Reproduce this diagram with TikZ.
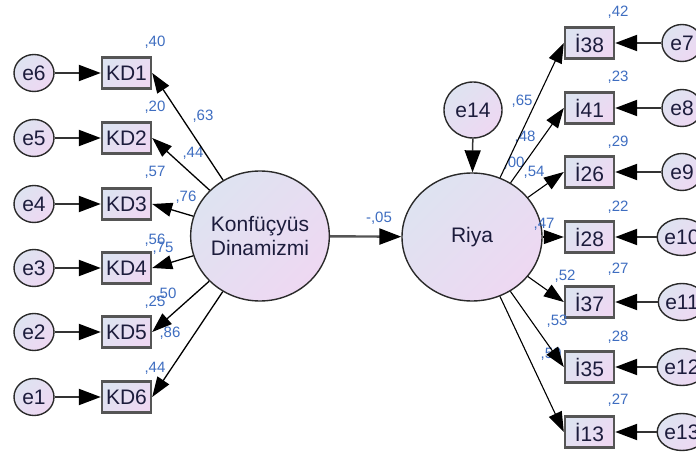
\documentclass[tikz,border=0pt]{standalone}
\usepackage{fontspec}
\setmainfont{Liberation Sans}
\usetikzlibrary{arrows.meta,shapes.geometric}

\definecolor{fillA}{HTML}{DEE3F1}
\definecolor{fillB}{HTML}{EED8F2}
\definecolor{nodetext}{HTML}{1C1C3C}
\definecolor{estblue}{HTML}{3E6DC0}
\definecolor{rim}{HTML}{2A2A2A}
\definecolor{boxrim}{HTML}{555555}
\definecolor{errline}{HTML}{333333}

\tikzset{
  shadefill/.style={top color=fillA, bottom color=fillB, shading angle=45},
  errnode/.style={ellipse, draw=rim, line width=1.4pt, shadefill,
    minimum width=40pt, minimum height=37pt, inner sep=0pt,
    font=\fontsize{21}{21}\selectfont, text=nodetext},
  obsnode/.style={rectangle, draw=boxrim, line width=2.4pt, shadefill,
    minimum width=49pt, minimum height=31pt, inner sep=0pt,
    font=\fontsize{21}{21}\selectfont, text=nodetext},
  latnode/.style={ellipse, draw=rim, line width=1.4pt, shadefill,
    minimum width=138pt, minimum height=130pt, inner sep=0pt, align=center,
    font=\fontsize{21}{24}\selectfont, text=nodetext},
  errarrow/.style={draw=errline, line width=2pt,
    -{Triangle[length=22pt,width=16pt,fill=black,color=black]}},
  patharrow/.style={draw=black, line width=1.3pt, -{Triangle[length=20pt,width=14pt]}},
  estlabel/.style={font=\fontsize{15}{15}\selectfont, text=estblue, inner sep=0pt},
}

\begin{document}
\begin{tikzpicture}[x=1pt,y=-1pt]
\useasboundingbox (0,0) rectangle (696,454);

% latent variables
\node[latnode] (konf) at (260,236) {Konfüçyüs\\Dinamizmi};
\node[latnode, minimum width=140pt, minimum height=128pt] (riya) at (472,237) {Riya};
\node[errnode, minimum width=58pt, minimum height=56pt] (e14) at (473,110) {e14};

% left indicators and their errors
\foreach \i/\e/\y in {1/6/73, 2/5/138, 3/4/204, 4/3/268, 5/2/332, 6/1/397}{
  \node[obsnode] (kd\i) at (126.5,\y) {KD\i};
  \node[errnode] (e\e) at (34,\y) {e\e};
}

% right indicators and their errors
\foreach \n/\e/\y in {38/7/43, 41/8/108, 26/9/172, 28/10/237, 37/11/302, 35/12/367, 13/13/432}{
  \node[obsnode] (i\n) at (589.5,\y) {İ\n};
  \node[errnode] (e\e) at (682,\y) {e\e};
}

% squared multiple correlations and estimates
\node[estlabel] (r1) at (155,42) {,40};
\node[estlabel] (r2) at (155,107) {,20};
\node[estlabel] (r3) at (155,172) {,57};
\node[estlabel] (r4) at (155,240) {,56};
\node[estlabel] (r5) at (155,302) {,25};
\node[estlabel] (r6) at (155,368) {,44};
\node[estlabel] (l1) at (203,116) {,63};
\node[estlabel] (l2) at (193,153) {,44};
\node[estlabel] (l3) at (186,197) {,76};
\node[estlabel] (l4) at (163,248) {,75};
\node[estlabel] (l5) at (166,294) {,50};
\node[estlabel] (l6) at (170,333) {,86};
\node[estlabel] (b1) at (379,218) {-,05};
\node[estlabel] (r14) at (522,101) {,65};
\node[estlabel] (m1) at (525,137) {,48};
\node[estlabel] (m2) at (514,163) {,00};
\node[estlabel] (m3) at (534,172) {,54};
\node[estlabel] (m4) at (544,224) {,47};
\node[estlabel] (m5) at (565,276) {,52};
\node[estlabel] (m6) at (557,321) {,53};
\node[estlabel] (m7) at (551,354) {,50};
\node[estlabel] (q1) at (618,12) {,42};
\node[estlabel] (q2) at (618,77) {,23};
\node[estlabel] (q3) at (618,142) {,29};
\node[estlabel] (q4) at (618,207) {,22};
\node[estlabel] (q5) at (618,269) {,27};
\node[estlabel] (q6) at (618,337) {,28};
\node[estlabel] (q7) at (618,400) {,27};

% error terms
\foreach \i/\e in {1/6, 2/5, 3/4, 4/3, 5/2, 6/1}{
  \draw[errarrow] (e\e) -- (kd\i.west);
}
\foreach \n/\e in {38/7, 41/8, 26/9, 28/10, 37/11, 35/12, 13/13}{
  \draw[errarrow] (e\e) -- (i\n.east);
}
\draw[errarrow, line width=1.5pt] (e14) -- (riya);

% loadings
\foreach \i in {1,...,6}{
  \draw[patharrow] (konf) -- (kd\i.east);
}
\foreach \n in {38,41,26,28,37,35,13}{
  \draw[patharrow, line width=1.1pt] (riya) -- (i\n.west);
}

% structural path
\draw[errarrow, draw=boxrim, line width=2.4pt] (konf) -- (riya);
\end{tikzpicture}
\end{document}
